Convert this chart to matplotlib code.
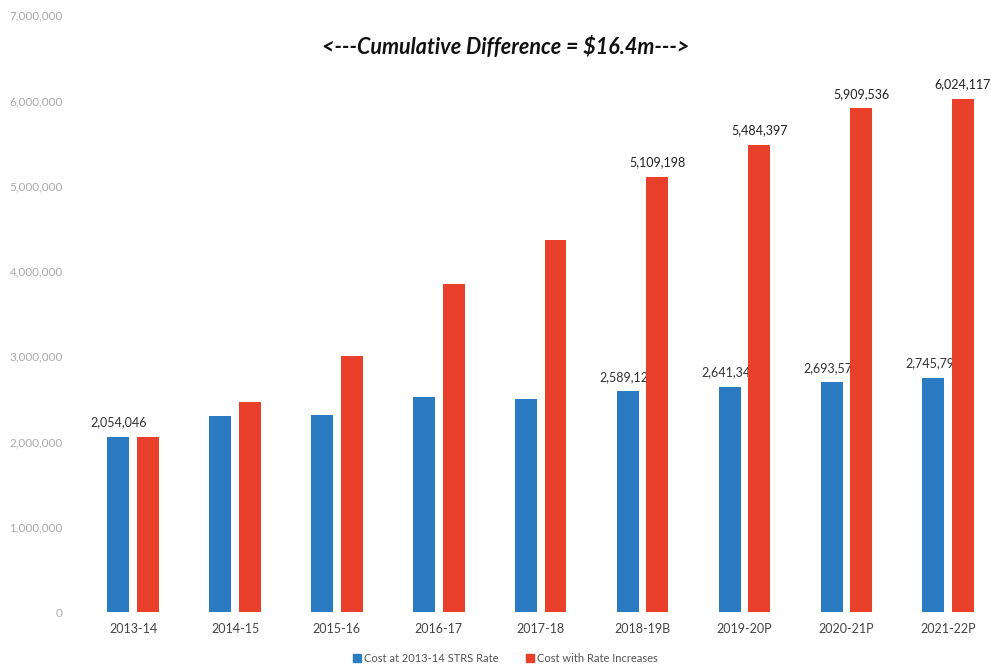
import matplotlib
matplotlib.use("Agg")
import matplotlib.pyplot as plt
from matplotlib.patches import Patch
import numpy as np

plt.rcParams["font.family"] = ["Lato", "DejaVu Sans"]

years = ["2013-14", "2014-15", "2015-16", "2016-17", "2017-18",
         "2018-19B", "2019-20P", "2020-21P", "2021-22P"]
base_cost = [2054046, 2300000, 2310000, 2520000, 2500000,
             2589125, 2641347, 2693570, 2745792]
rate_cost = [2054046, 2460000, 3000000, 3850000, 4360000,
             5109198, 5484397, 5909536, 6024117]
# which bars carry a value label
base_labelled = [True, False, False, False, False, True, True, True, True]
rate_labelled = [False, False, False, False, False, True, True, True, True]
yticks = [0, 1000000, 2000000, 3000000, 4000000, 5000000, 6000000, 7000000]

BLUE = "#2b7bc3"
RED = "#e9402b"

fig = plt.figure(figsize=(9.91, 6.66), dpi=100)
ax = fig.add_axes([0.083, 0.081, 0.917, 0.896])

x = np.arange(len(years))
w = 0.215
off = 0.145
ax.bar(x - off, base_cost, w, color=BLUE, zorder=1)
ax.bar(x + off, rate_cost, w, color=RED, zorder=3)

for i in range(len(years)):
    if base_labelled[i]:
        ax.text(x[i] - off, base_cost[i] + 100000, f"{base_cost[i]:,}",
                ha="center", va="bottom", fontsize=9, color="#333333", zorder=2)
    if rate_labelled[i]:
        ax.text(x[i] + off, rate_cost[i] + 100000, f"{rate_cost[i]:,}",
                ha="center", va="bottom", fontsize=9, color="#222222", zorder=4)

ax.set_ylim(0, 7000000)
ax.set_xlim(-0.5, 8.42)
ax.set_yticks(yticks)
ax.set_yticklabels([f"{v:,}" for v in yticks], fontsize=8.5, color="#aaaaaa")
ax.set_xticks(x)
ax.set_xticklabels(years, fontsize=9, color="#444444")
ax.tick_params(length=0)
ax.tick_params(axis="y", pad=14)
ax.tick_params(axis="x", pad=8)
for s in ax.spines.values():
    s.set_visible(False)

fig.text(0.51, 0.929, r"<---Cumulative Difference = \$16.4m--->",
         ha="center", va="center", fontsize=15.5, fontweight="bold",
         fontstyle="italic", color="#111111")

handles = [Patch(color=BLUE, label="Cost at 2013-14 STRS Rate"),
           Patch(color=RED, label="Cost with Rate Increases")]
fig.legend(handles=handles, loc="center", bbox_to_anchor=(0.51, 0.011),
           ncol=2, frameon=False, fontsize=8, handlelength=0.7,
           handleheight=0.7, handletextpad=0.3, columnspacing=2.5,
           labelcolor="#555555")

fig.savefig("out.png", dpi=100)
